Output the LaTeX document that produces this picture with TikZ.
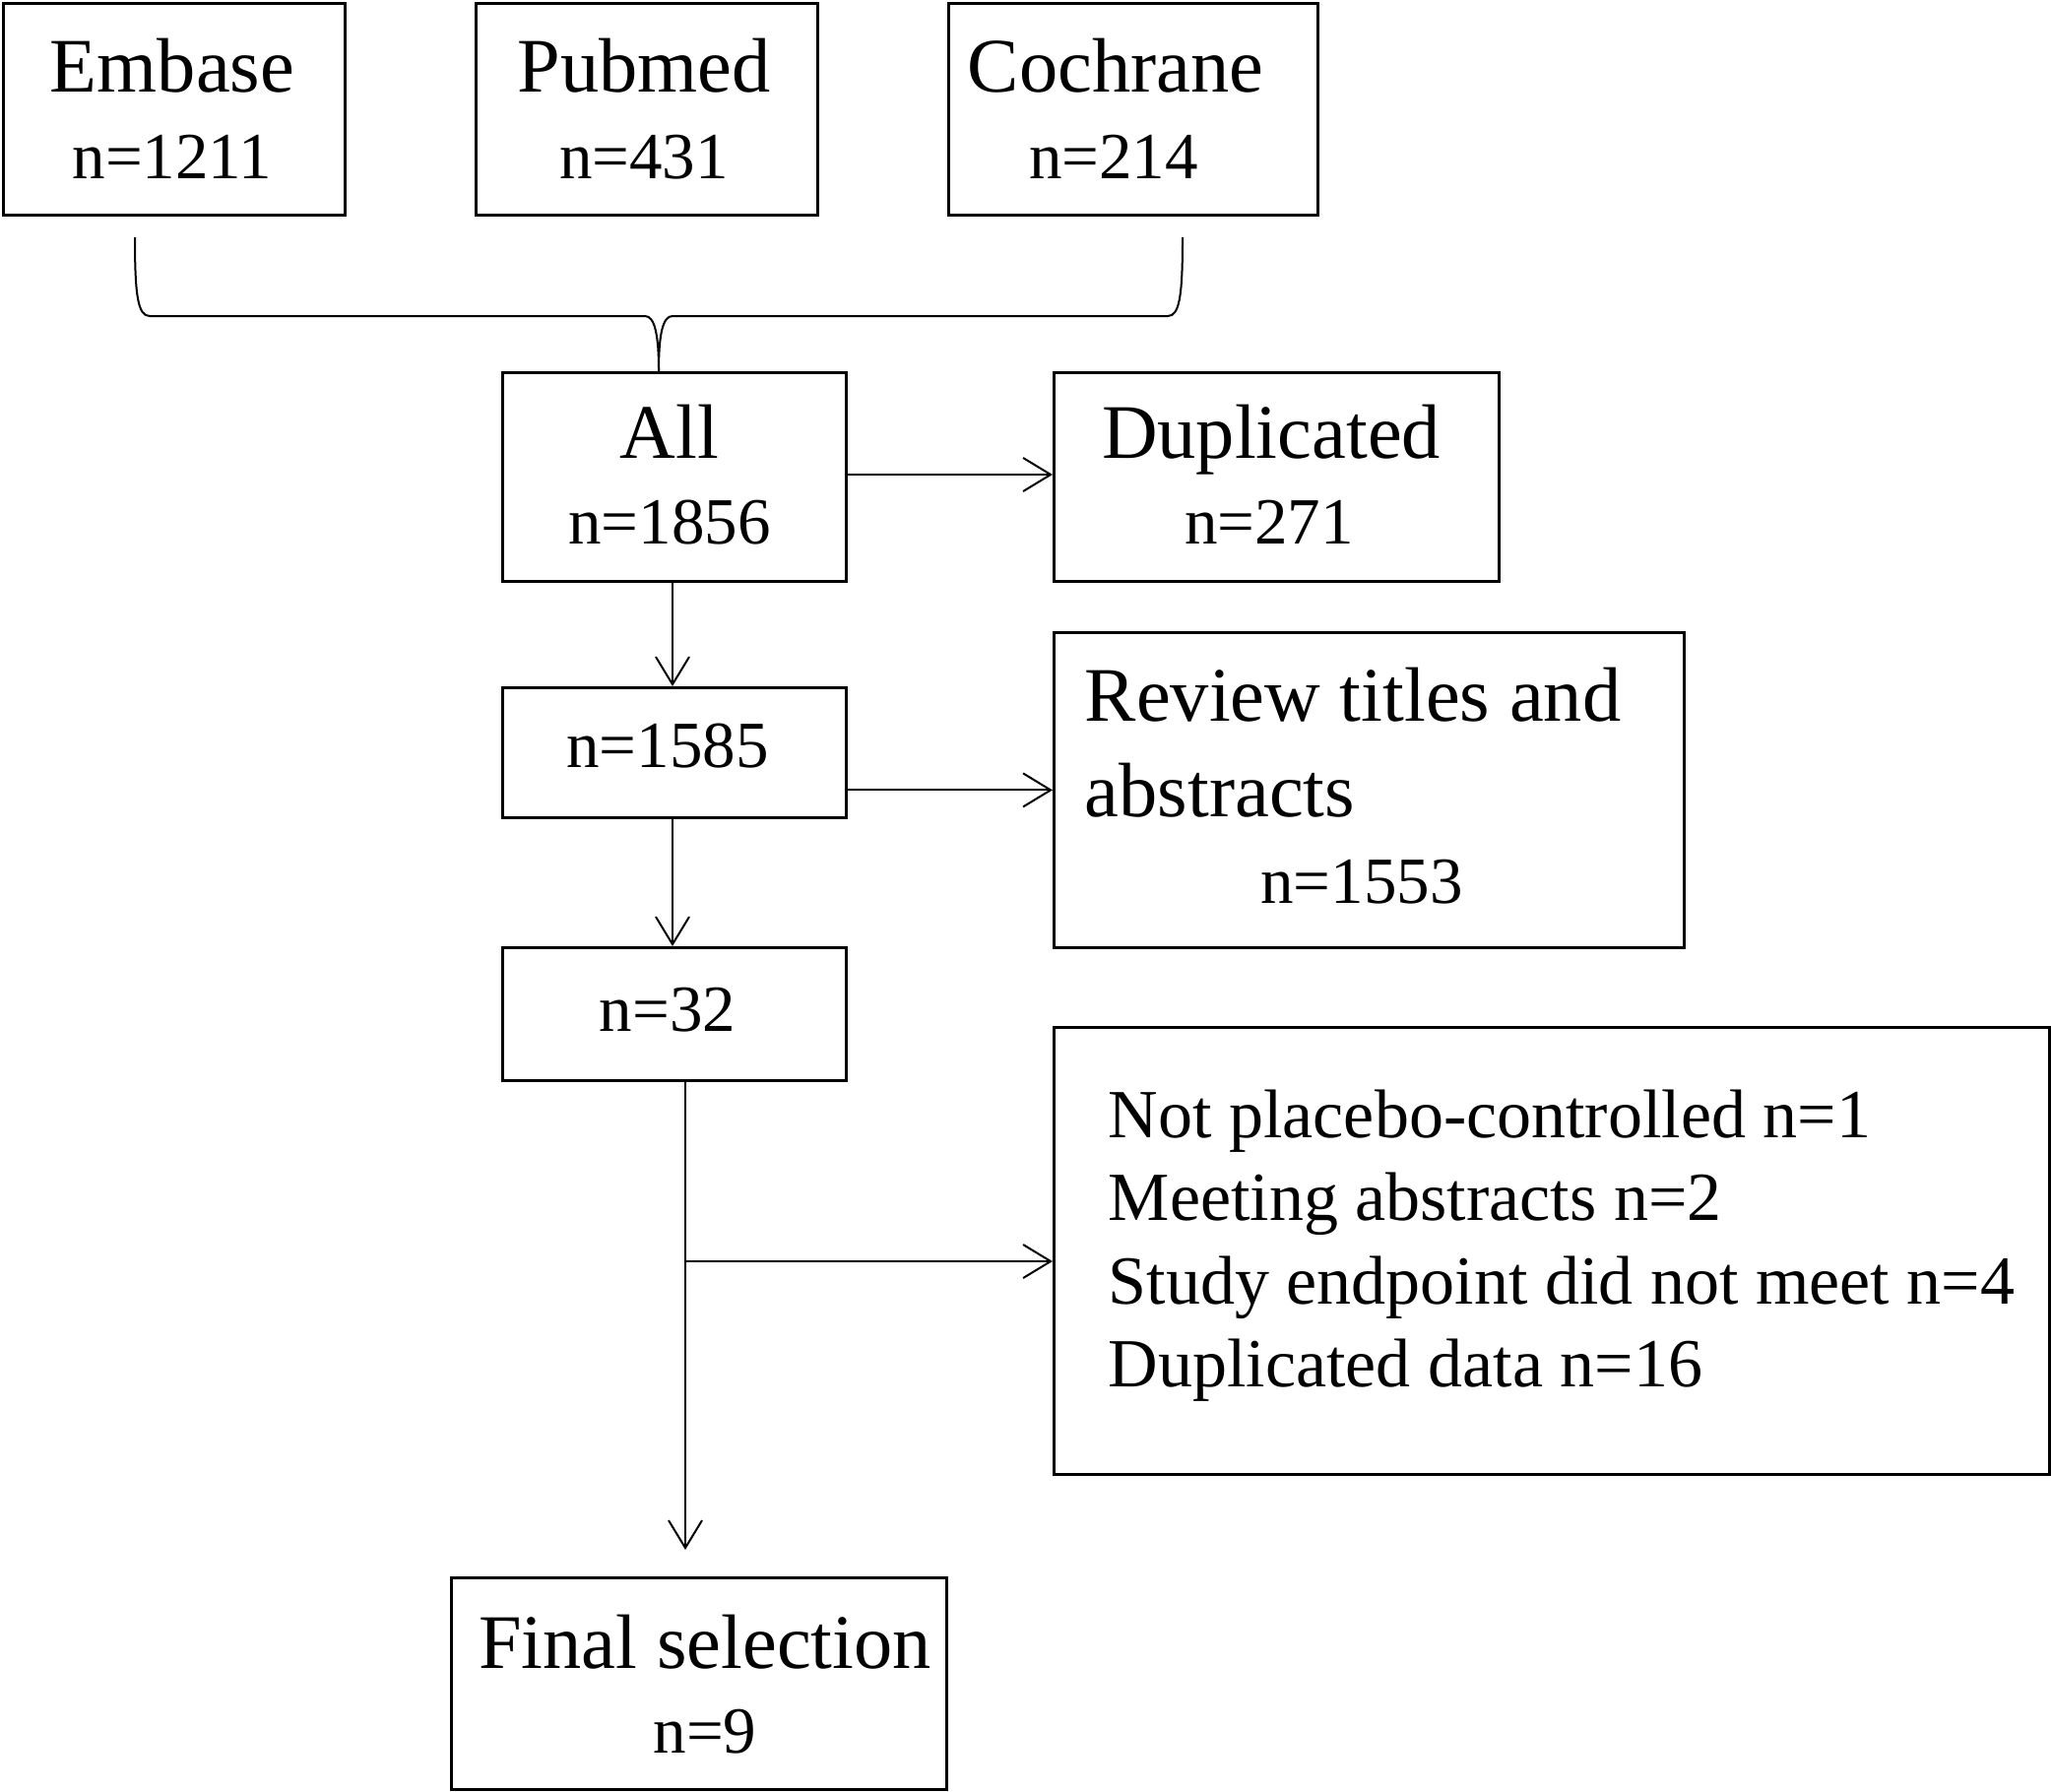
\documentclass[tikz,border=0pt]{standalone}
\usepackage{fontspec}
\setmainfont{Liberation Serif}
\usetikzlibrary{arrows.meta,calc}
\newcommand{\ttlfont}{\fontsize{19.6}{21}\selectfont}
\newcommand{\numfont}{\fontsize{16.75}{20}\selectfont}
\newcommand{\excfont}{\fontsize{17.5}{21}\selectfont}
\tikzset{
  boxstyle/.style={draw, line width=0.7pt, rectangle, inner sep=0pt, anchor=north west},
  txtstyle/.style={inner sep=0pt, anchor=base},
  ltxt/.style={inner sep=0pt, anchor=base west},
  arr/.style={line width=0.5pt, -{Straight Barb[length=7pt,width=8.5pt]}},
  plain/.style={line width=0.5pt},
}
\newcommand{\mybox}[5]{% name, x1, y1, x2, y2
  \node[boxstyle, minimum width={(#4-#2)*0.25pt}, minimum height={(#5-#3)*0.25pt}] (#1) at (#2,#3) {};
}
\begin{document}
\begin{tikzpicture}[x=0.25pt,y=-0.25pt]
\useasboundingbox (0,0) rectangle (2083,1819);
% boxes
\mybox{emb}{2}{2}{349}{217}
\mybox{pub}{482}{2}{829}{217}
\mybox{coc}{962}{2}{1337}{217}
\mybox{all}{509}{377}{858}{589}
\mybox{dup}{1069}{377}{1521}{589}
\mybox{nA}{509}{697}{858}{829}
\mybox{rev}{1069}{641}{1709}{961}
\mybox{nB}{509}{961}{858}{1096}
\mybox{exc}{1069}{1042}{2080}{1496}
\mybox{fin}{457}{1601}{960}{1816}
% texts
\node[txtstyle] (embT) at (175,94) {\ttlfont Embase};
\node[txtstyle] (embN) at (175,181) {\numfont n=1211};
\node[txtstyle] (pubT) at (654,94) {\ttlfont Pubmed};
\node[txtstyle] (pubN) at (654,181) {\numfont n=431};
\node[txtstyle] (cocT) at (1133,94) {\ttlfont Cochrane};
\node[txtstyle] (cocN) at (1131,181) {\numfont n=214};
\node[txtstyle] (allT) at (680,465) {\ttlfont All};
\node[txtstyle] (allN) at (680,552) {\numfont n=1856};
\node[txtstyle] (dupT) at (1291,465) {\ttlfont Duplicated};
\node[txtstyle] (dupN) at (1289,552) {\numfont n=271};
\node[txtstyle] (nAT) at (678,779) {\numfont n=1585};
\node[ltxt] (revT1) at (1101,732) {\ttlfont Review titles and};
\node[ltxt] (revT2) at (1101,829) {\ttlfont abstracts};
\node[txtstyle] (revN) at (1383,917) {\numfont n=1553};
\node[txtstyle] (nBT) at (678,1047) {\numfont n=32};
\node[ltxt] (exc1) at (1125,1155) {\excfont Not placebo-controlled n=1};
\node[ltxt] (exc2) at (1125,1239) {\excfont Meeting abstracts n=2};
\node[ltxt] (exc3) at (1125,1324) {\excfont Study endpoint did not meet n=4};
\node[ltxt] (exc4) at (1125,1408) {\excfont Duplicated data n=16};
\node[txtstyle] (finT) at (716,1694) {\ttlfont Final selection};
\node[txtstyle] (finN) at (716,1780) {\numfont n=9};
% brace
\coordinate (brL) at (137,241);
\coordinate (brR) at (1201,241);
\coordinate (cusp) at (669,377);
\draw[plain] (brL) .. controls (137,300) and (140,321) .. (152,321) -- (655,321)
  .. controls (665,321) and (669,340) .. (cusp);
\draw[plain] (brR) .. controls (1201,300) and (1198,321) .. (1186,321) -- (683,321)
  .. controls (673,321) and (669,340) .. (cusp);
% connectors
\draw[arr] (all.east |- 0,482) -- (dup.west |- 0,482);
\draw[arr] (all.south -| 683,0) -- (nA.north -| 683,0);
\draw[arr] (nA.east |- rev.west) -- (rev.west);
\draw[arr] (nA.south -| 683,0) -- (nB.north -| 683,0);
\coordinate (split) at (696,1281);
\draw[arr, shorten >=6.75pt] (split |- nB.south) -- (split |- fin.north);
\draw[arr] (split) -- (split -| exc.west);
\end{tikzpicture}
\end{document}
